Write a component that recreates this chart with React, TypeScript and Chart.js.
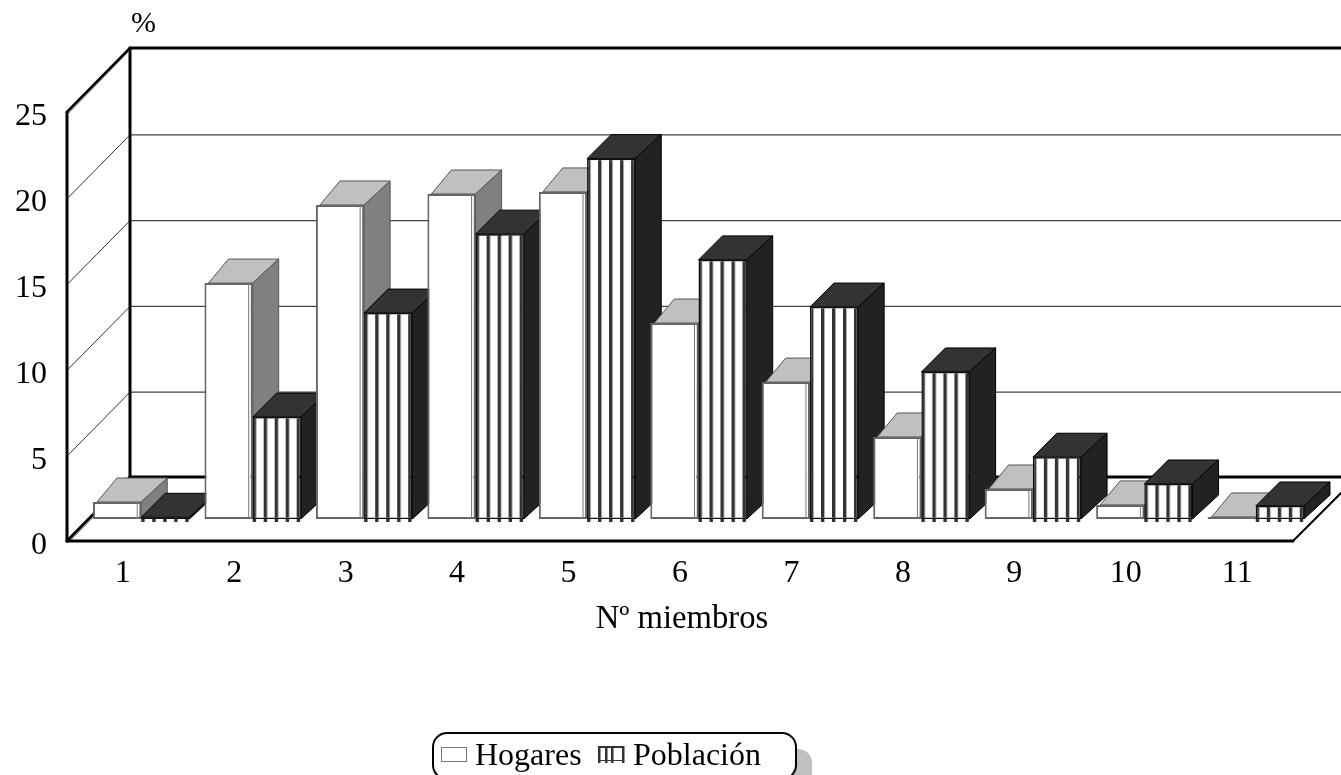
import React, { useEffect, useRef } from "react";
import { Chart, registerables } from "chart.js";

Chart.register(...registerables);

const categories = ["1", "2", "3", "4", "5", "6", "7", "8", "9", "10", "11"];
const hogares = [0.99, 13.75, 18.3, 18.94, 19.06, 11.42, 7.98, 4.78, 1.75, 0.82, 0.12];
const poblacion = [0.1, 5.94, 12.0, 16.6, 21.0, 15.1, 12.35, 8.57, 3.6, 2.04, 0.76];
const seriesNames = ["Hogares", "Población"];
const yTicks = [0, 5, 10, 15, 20, 25];
const xTitle = "Nº miembros";
const yTitle = "%";

const FONT = '"Liberation Serif", "Times New Roman", serif';
const WALL_DX = 63;
const WALL_DY = -64;
const BAR_DX = 18.5;
const BAR_DY = -22;
const DEPTH_DX = 26;
const DEPTH_DY = -24;
const STRIPE_PERIOD = 11;
const STRIPE_WIDTH = 3.4;
const STRIPE_COLOR = "#333333";

function makeStripes(): CanvasPattern {
  const c = document.createElement("canvas");
  c.width = STRIPE_PERIOD;
  c.height = 4;
  const x = c.getContext("2d")!;
  x.fillStyle = "#ffffff";
  x.fillRect(0, 0, STRIPE_PERIOD, 4);
  x.fillStyle = STRIPE_COLOR;
  x.fillRect(0, 0, STRIPE_WIDTH, 4);
  return x.createPattern(c, "repeat")!;
}

function line(ctx: CanvasRenderingContext2D, x1: number, y1: number, x2: number, y2: number, w: number, color: string) {
  ctx.beginPath();
  ctx.moveTo(x1, y1);
  ctx.lineTo(x2, y2);
  ctx.lineWidth = w;
  ctx.strokeStyle = color;
  ctx.stroke();
}

function poly(ctx: CanvasRenderingContext2D, pts: number[][], fill: string, stroke: string, w: number) {
  ctx.beginPath();
  pts.forEach((p, i) => (i ? ctx.lineTo(p[0], p[1]) : ctx.moveTo(p[0], p[1])));
  ctx.closePath();
  ctx.fillStyle = fill;
  ctx.fill();
  ctx.lineWidth = w;
  ctx.strokeStyle = stroke;
  ctx.stroke();
}

const stagePlugin = {
  id: "stage3d",
  beforeDraw(chart: any) {
    const ctx: CanvasRenderingContext2D = chart.ctx;
    const { left, right } = chart.chartArea;
    const yScale = chart.scales.y;
    const W = chart.width;
    ctx.save();
    ctx.lineCap = "round";
    yTicks.forEach((v) => {
      const y = yScale.getPixelForValue(v) + 1;
      if (v > 0 && v < 25) {
        line(ctx, left, y, left + WALL_DX, y + WALL_DY, 1, "#333333");
        line(ctx, left + WALL_DX, y + WALL_DY, W, y + WALL_DY, 1.2, "#444444");
      }
    });
    const y0 = yScale.getPixelForValue(0);
    const yTop = yScale.getPixelForValue(25);
    line(ctx, left + WALL_DX, yTop + WALL_DY, W, yTop + WALL_DY, 3, "#000");
    line(ctx, left + WALL_DX, y0 + WALL_DY, W, y0 + WALL_DY, 3, "#000");
    line(ctx, left + WALL_DX, yTop + WALL_DY, left + WALL_DX, y0 + WALL_DY, 3, "#000");
    line(ctx, left, yTop, left, y0, 3, "#000");
    line(ctx, left + 1, yTop + 2, left + WALL_DX, yTop + WALL_DY + 2, 1, "#888");
    line(ctx, left, yTop, left + WALL_DX, yTop + WALL_DY, 2.5, "#000");
    line(ctx, left + 3, y0, left + WALL_DX + 2, y0 + WALL_DY + 1, 1, "#888");
    line(ctx, left, y0, left + WALL_DX, y0 + WALL_DY, 3, "#000");
    line(ctx, left, y0, right, y0, 3, "#000");
    line(ctx, right, y0, W, y0 - (W - right), 2, "#000");
    ctx.restore();
  },
  beforeDatasetsDraw(chart: any) {
    const ctx: CanvasRenderingContext2D = chart.ctx;
    const stripes = chart.data.datasets[1].backgroundColor as CanvasPattern;
    ctx.save();
    ctx.translate(BAR_DX, BAR_DY);
    categories.forEach((_, j) => {
      chart.data.datasets.forEach((_d: any, i: number) => {
        const el = chart.getDatasetMeta(i).data[j];
        const { x, y, base, width } = el.getProps(["x", "y", "base", "width"], true);
        const l = x - width / 2;
        const r = x + width / 2;
        const striped = i === 1;
        const topFill = striped ? "#333333" : "#c0c0c0";
        const sideFill = striped ? "#222222" : "#808080";
        const edge = striped ? "#000000" : "#555555";
        poly(ctx, [[l + (striped ? 0 : 4), y], [l + DEPTH_DX - 2, y + DEPTH_DY], [r + DEPTH_DX, y + DEPTH_DY], [r, y]], topFill, edge, 1);
        poly(ctx, [[r, y], [r + DEPTH_DX, y + DEPTH_DY], [r + DEPTH_DX, base + DEPTH_DY], [r, base]], sideFill, edge, 1);
        if (striped) stripes.setTransform(new DOMMatrix().translate(l, 0));
        el.draw(ctx);
        if (striped) {
          ctx.fillStyle = STRIPE_COLOR;
          for (let sx = 0; sx < width; sx += STRIPE_PERIOD) {
            ctx.fillRect(l + sx, base, STRIPE_WIDTH, 3);
          }
        } else {
          line(ctx, r - 4, y, r - 4, base, 1, "#777777");
        }
      });
    });
    ctx.restore();
    return false;
  },
  afterDraw(chart: any) {
    const ctx: CanvasRenderingContext2D = chart.ctx;
    ctx.save();
    ctx.fillStyle = "#000";
    ctx.textBaseline = "alphabetic";
    ctx.textAlign = "left";
    ctx.font = `30px ${FONT}`;
    ctx.fillText(yTitle, 131, 32);

    // legend
    ctx.beginPath();
    ctx.roundRect(449, 749, 363, 46, 14);
    ctx.fillStyle = "#c0c0c0";
    ctx.fill();
    ctx.beginPath();
    ctx.roundRect(433, 733, 363, 46, 14);
    ctx.fillStyle = "#ffffff";
    ctx.fill();
    ctx.lineWidth = 2;
    ctx.strokeStyle = "#000";
    ctx.stroke();

    ctx.fillStyle = "#fff";
    ctx.fillRect(441, 747, 25, 14);
    ctx.lineWidth = 1;
    ctx.strokeStyle = "#777";
    ctx.strokeRect(441.5, 747.5, 25, 14);

    ctx.fillStyle = "#333";
    ctx.fillRect(598, 746, 26, 2);
    ctx.fillRect(598, 760, 26, 1);
    [598, 605, 611, 622].forEach((sx) => ctx.fillRect(sx, 746, 2.5, 17));

    ctx.fillStyle = "#000";
    ctx.font = `32px ${FONT}`;
    ctx.fillText(seriesNames[0], 475, 765);
    ctx.fillText(seriesNames[1], 633, 765);
    ctx.restore();
  },
};

function shiftDraw(s: any, method: string, dx: number, dy: number) {
  const original = s[method];
  s[method] = function (area: any) {
    s.ctx.save();
    s.ctx.translate(dx, dy);
    original.call(s, area);
    s.ctx.restore();
  };
}

export default function App() {
  const ref = useRef<HTMLCanvasElement>(null);
  useEffect(() => {
    const stripes = makeStripes();
    const chart: any = new Chart(ref.current!, {
      type: "bar",
      data: {
        labels: categories,
        datasets: [
          {
            label: seriesNames[0],
            data: hogares,
            backgroundColor: "#ffffff",
            borderColor: "#666666",
            borderWidth: 2,
            borderSkipped: false,
          },
          {
            label: seriesNames[1],
            data: poblacion,
            backgroundColor: stripes,
            borderColor: "#111111",
            borderWidth: 1.5,
            borderSkipped: false,
          },
        ],
      },
      options: {
        responsive: false,
        devicePixelRatio: 1,
        animation: false,
        events: [],
        layout: { padding: { left: 0, top: 112, right: 48, bottom: 0 } },
        datasets: { bar: { barPercentage: 1, categoryPercentage: 0.865 } },
        plugins: { legend: { display: false }, tooltip: { enabled: false } },
        scales: {
          x: {
            grid: { display: false, drawTicks: false },
            border: { display: false },
            ticks: {
              color: "#000",
              font: { family: FONT, size: 32 },
              padding: 13,
              maxRotation: 0,
              autoSkip: false,
            },
            title: {
              display: true,
              text: xTitle,
              color: "#000",
              font: { family: FONT, size: 32.7 },
              padding: { top: 0, bottom: 136 },
            },
            afterFit: (s: any) => {
              s.height = 234;
              if (!s.$shifted) {
                s.$shifted = true;
                shiftDraw(s, "drawTitle", 2, 0);
              }
            },
          },
          y: {
            min: 0,
            max: 25,
            grid: { display: false, drawTicks: false },
            border: { display: false },
            afterBuildTicks: (s: any) => {
              s.ticks = yTicks.map((value) => ({ value }));
            },
            ticks: {
              color: "#000",
              font: { family: FONT, size: 32 },
              padding: 20,
            },
            afterFit: (s: any) => {
              s.width = 67;
              if (!s.$shifted) {
                s.$shifted = true;
                shiftDraw(s, "drawLabels", 0, 5);
              }
            },
          },
        },
      },
      plugins: [stagePlugin],
    } as any);
    return () => chart.destroy();
  }, []);
  return (
    <canvas
      ref={ref}
      width={1341}
      height={775}
      style={{ display: "block", position: "absolute", left: 0, top: 0 }}
    />
  );
}
